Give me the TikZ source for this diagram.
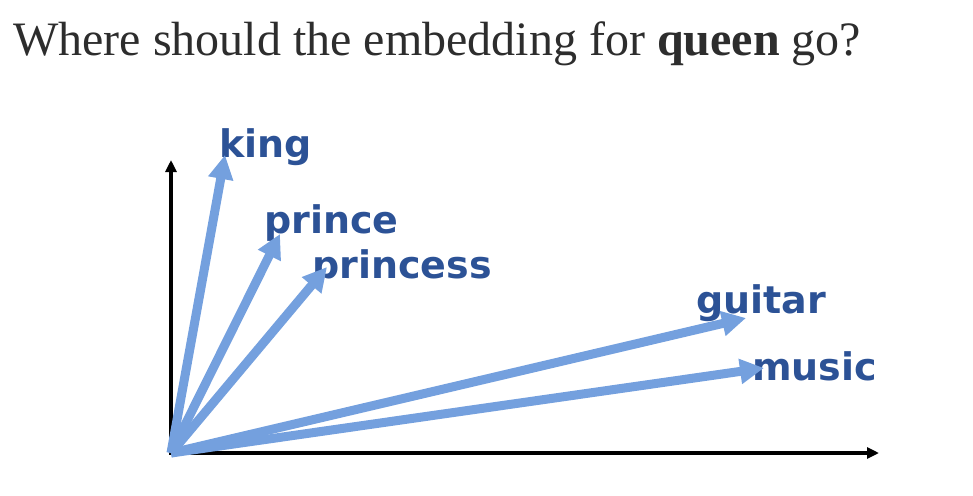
\documentclass[tikz,border=0pt]{standalone}
\usepackage{fontspec}
\setmainfont{Liberation Serif}
\newfontfamily\labelfont{DejaVu Sans}
\usetikzlibrary{arrows.meta}
\definecolor{vecblue}{RGB}{116,160,222}
\definecolor{wordblue}{RGB}{44,82,150}
\definecolor{titlegray}{RGB}{45,45,45}
\begin{document}
\begin{tikzpicture}[x=1pt,y=-1pt,
    axis/.style={line width=3.8pt,-{Triangle[length=12pt,width=11pt]}},
    vec/.style={vecblue,line width=9pt,-{Triangle[length=24pt,width=24pt]}},
    word/.style={anchor=base west,inner sep=0pt,text=wordblue,font=\labelfont\bfseries\fontsize{38}{42}\selectfont}]
        \useasboundingbox (0,0) rectangle (973,495);

        % Title
        \node[anchor=base west,inner sep=0pt,text=titlegray,font=\fontsize{48}{52}\selectfont] (title) at (13,56)
            {Where should the embedding for \textbf{queen} go?};

        % Draw the axes
        \coordinate (origin) at (171,453);
        \coordinate (ytop) at (171,160);
        \coordinate (xend) at (879,453);
        \draw[axis] ([yshift=2pt]origin) -- (ytop);
        \draw[axis] ([xshift=-2pt]origin) -- (xend);

        % Word labels
        \node[word] (king) at (219,157) {king};
        \node[word] (prince) at (264,233) {prince};
        \node[word] (princess) at (312,278) {princess};
        \node[word] (guitar) at (696,313) {guitar};
        \node[word] (music) at (752,380) {music};

        % Arrow tips
        \coordinate (kingtip) at (225,155);
        \coordinate (princetip) at (280,234);
        \coordinate (princesstip) at (327,267);
        \coordinate (guitartip) at (746,318);
        \coordinate (musictip) at (764,368);

        % Draw the vectors
        \foreach \w in {king,prince,princess,guitar,music} {
            \draw[vec] (origin) -- (\w tip);
        }
    \end{tikzpicture}
\end{document}
